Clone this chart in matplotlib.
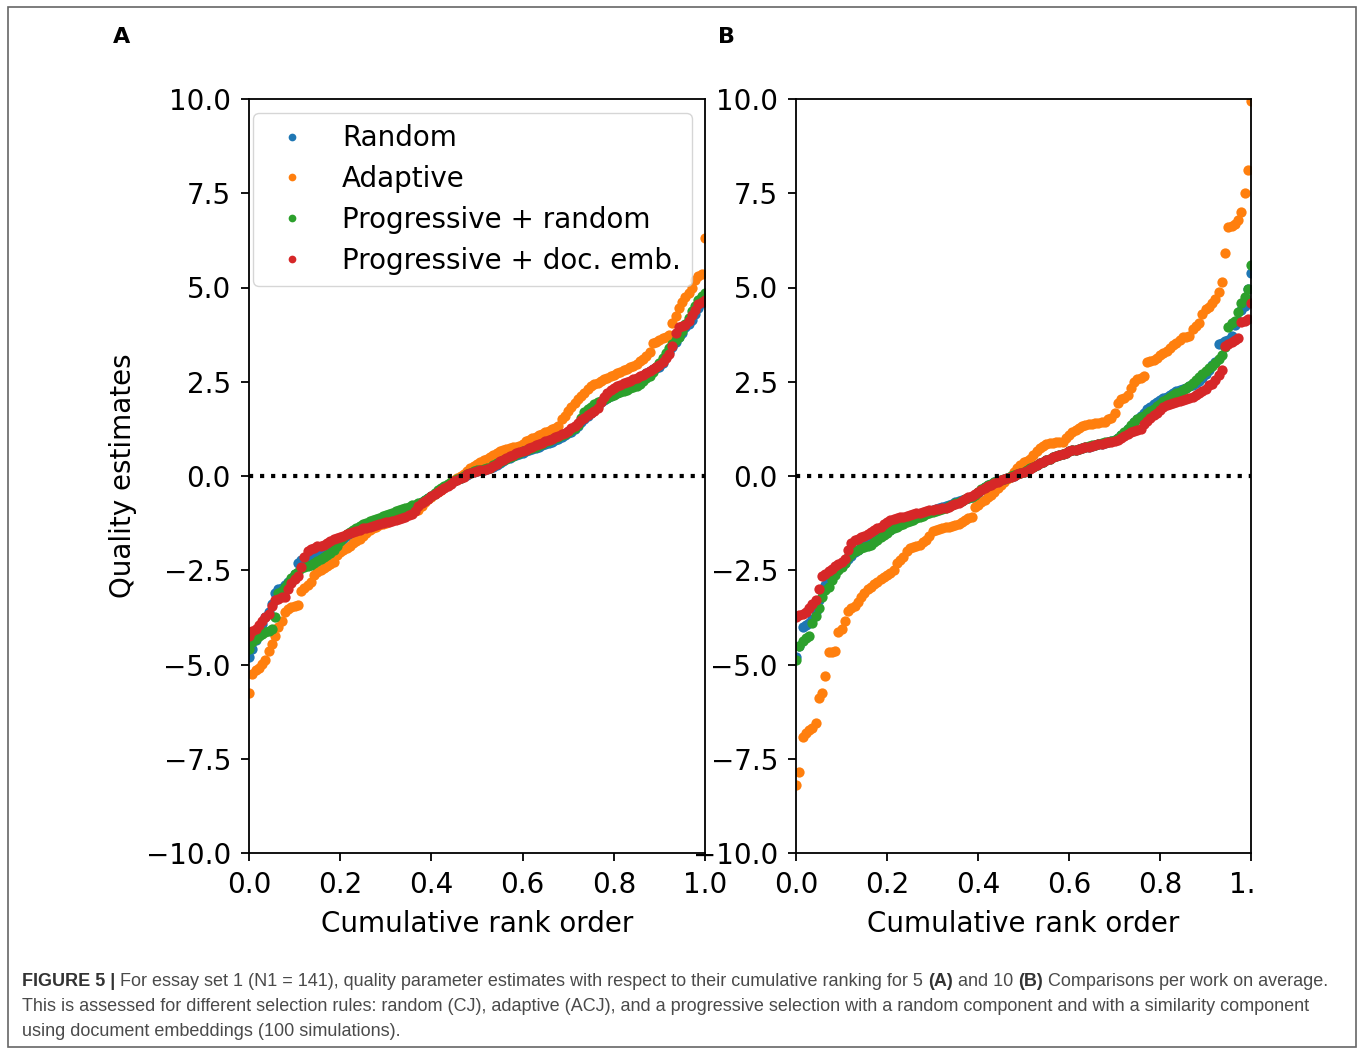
import numpy as np
import matplotlib
matplotlib.use('Agg')
import matplotlib.pyplot as plt
from matplotlib.patches import Rectangle

# quality estimates per work, sorted (141 works)
series_names = ['Random', 'Adaptive', 'Progressive + random', 'Progressive + doc. emb.']
colors = ['#1f77b4', '#ff7f0e', '#2ca02c', '#d62728']

# panel A: 5 comparisons per work
rnd_a = [-4.8, -4.6, -4.35, -4.1, -3.92, -3.75, -3.6, -3.4, -3.1, -3.0,
         -2.97, -2.9, -2.82, -2.76, -2.6, -2.3, -2.22, -2.18, -2.14, -2.1,
         -2.06, -2.02, -1.98, -1.94, -1.91, -1.87, -1.83, -1.78, -1.72, -1.66,
         -1.6, -1.53, -1.47, -1.42, -1.37, -1.32, -1.29, -1.26, -1.23, -1.2,
         -1.17, -1.14, -1.12, -1.09, -1.07, -1.05, -1.03, -1.01, -0.99, -0.97,
         -0.94, -0.88, -0.78, -0.7, -0.64, -0.58, -0.52, -0.47, -0.41, -0.35,
         -0.29, -0.24, -0.19, -0.14, -0.09, -0.05, -0.01, 0.03, 0.07, 0.1,
         0.13, 0.15, 0.17, 0.19, 0.21, 0.25, 0.3, 0.35, 0.4, 0.44,
         0.48, 0.52, 0.55, 0.59, 0.62, 0.65, 0.68, 0.71, 0.75, 0.78,
         0.82, 0.85, 0.88, 0.91, 0.95, 0.99, 1.03, 1.08, 1.13, 1.18,
         1.25, 1.33, 1.42, 1.5, 1.58, 1.66, 1.75, 1.85, 1.95, 2.02,
         2.08, 2.13, 2.17, 2.21, 2.25, 2.29, 2.33, 2.37, 2.42, 2.48,
         2.56, 2.64, 2.72, 2.78, 2.83, 2.87, 2.9, 3.0, 3.15, 3.3,
         3.42, 3.55, 3.68, 3.8, 3.95, 4.02, 4.15, 4.3, 4.45, 4.6,
         4.72]
ada_a = [-5.75, -5.25, -5.15, -5.08, -4.98, -4.88, -4.65, -4.45, -4.25, -4.0,
         -3.85, -3.62, -3.52, -3.48, -3.45, -3.42, -3.05, -2.98, -2.9, -2.8,
         -2.62, -2.55, -2.49, -2.43, -2.39, -2.34, -2.27, -2.1, -2.02, -1.96,
         -1.9, -1.85, -1.79, -1.72, -1.66, -1.6, -1.52, -1.44, -1.39, -1.35,
         -1.31, -1.28, -1.24, -1.2, -1.16, -1.13, -1.1, -1.07, -1.04, -1.01,
         -0.98, -0.94, -0.9, -0.8, -0.68, -0.62, -0.55, -0.48, -0.42, -0.36,
         -0.3, -0.24, -0.17, -0.1, -0.05, 0.0, 0.06, 0.13, 0.2, 0.27,
         0.33, 0.38, 0.42, 0.45, 0.5, 0.56, 0.62, 0.66, 0.69, 0.72,
         0.74, 0.76, 0.78, 0.8, 0.86, 0.92, 0.96, 1.0, 1.04, 1.08,
         1.12, 1.17, 1.2, 1.24, 1.28, 1.32, 1.52, 1.6, 1.72, 1.82,
         1.93, 2.03, 2.12, 2.2, 2.3, 2.38, 2.43, 2.48, 2.53, 2.57,
         2.61, 2.65, 2.69, 2.72, 2.76, 2.8, 2.84, 2.88, 2.93, 2.98,
         3.04, 3.1, 3.18, 3.28, 3.52, 3.56, 3.6, 3.65, 3.7, 3.74,
         4.05, 4.25, 4.45, 4.62, 4.75, 4.85, 5.0, 5.2, 5.3, 5.35,
         6.3]
prg_a = [-4.6, -4.4, -4.32, -4.25, -4.2, -4.15, -4.1, -4.05, -3.75, -3.1,
         -3.05, -2.95, -2.85, -2.7, -2.6, -2.55, -2.45, -2.41, -2.38, -2.35,
         -2.3, -2.25, -2.2, -2.15, -2.1, -2.05, -1.97, -1.85, -1.72, -1.62,
         -1.55, -1.48, -1.42, -1.37, -1.32, -1.28, -1.24, -1.2, -1.17, -1.14,
         -1.11, -1.07, -1.04, -1.0, -0.97, -0.94, -0.91, -0.88, -0.85, -0.82,
         -0.78, -0.76, -0.72, -0.68, -0.63, -0.58, -0.53, -0.46, -0.38, -0.31,
         -0.27, -0.22, -0.17, -0.12, -0.08, -0.04, 0.0, 0.04, 0.08, 0.12,
         0.15, 0.17, 0.19, 0.2, 0.22, 0.28, 0.34, 0.38, 0.42, 0.46,
         0.5, 0.54, 0.58, 0.62, 0.65, 0.68, 0.71, 0.75, 0.78, 0.82,
         0.86, 0.9, 0.93, 0.97, 1.0, 1.04, 1.08, 1.12, 1.17, 1.22,
         1.28, 1.35, 1.55, 1.7, 1.78, 1.84, 1.9, 1.95, 1.99, 2.03,
         2.08, 2.12, 2.16, 2.2, 2.23, 2.26, 2.29, 2.33, 2.36, 2.4,
         2.45, 2.52, 2.6, 2.66, 2.75, 2.88, 3.0, 3.12, 3.25, 3.4,
         3.5, 3.62, 3.7, 3.85, 4.02, 4.18, 4.38, 4.52, 4.68, 4.78,
         4.85]
doc_a = [-4.25, -4.1, -4.05, -3.95, -3.85, -3.75, -3.65, -3.45, -3.3, -3.25,
         -3.22, -3.2, -3.0, -2.85, -2.72, -2.65, -2.42, -2.15, -2.0, -1.93,
         -1.9, -1.87, -1.85, -1.82, -1.78, -1.72, -1.68, -1.65, -1.62, -1.58,
         -1.54, -1.51, -1.48, -1.45, -1.42, -1.39, -1.37, -1.35, -1.33, -1.31,
         -1.28, -1.25, -1.23, -1.21, -1.19, -1.17, -1.14, -1.11, -1.08, -1.04,
         -1.0, -0.93, -0.8, -0.72, -0.66, -0.6, -0.54, -0.49, -0.43, -0.37,
         -0.32, -0.26, -0.2, -0.14, -0.1, -0.06, -0.02, 0.04, 0.08, 0.11,
         0.14, 0.16, 0.17, 0.18, 0.2, 0.26, 0.33, 0.39, 0.43, 0.48,
         0.52, 0.56, 0.6, 0.64, 0.67, 0.7, 0.73, 0.77, 0.81, 0.84,
         0.88, 0.92, 0.95, 0.99, 1.03, 1.07, 1.11, 1.15, 1.2, 1.26,
         1.33, 1.4, 1.48, 1.55, 1.61, 1.67, 1.72, 1.8, 1.95, 2.1,
         2.2, 2.28, 2.34, 2.38, 2.42, 2.46, 2.5, 2.53, 2.56, 2.6,
         2.64, 2.69, 2.73, 2.78, 2.83, 2.88, 2.94, 3.02, 3.12, 3.24,
         3.45, 3.8, 3.95, 3.98, 4.0, 4.1, 4.28, 4.4, 4.55, 4.62,
         4.68]

# panel B: 10 comparisons per work
rnd_b = [-4.8, -4.5, -4.0, -3.95, -3.9, -3.78, -3.6, -3.28, -3.05, -2.9,
         -2.76, -2.66, -2.56, -2.47, -2.38, -2.3, -2.2, -2.12, -2.02, -1.95,
         -1.87, -1.8, -1.74, -1.7, -1.66, -1.62, -1.58, -1.53, -1.48, -1.42,
         -1.36, -1.31, -1.27, -1.22, -1.18, -1.14, -1.1, -1.07, -1.03, -1.0,
         -0.97, -0.94, -0.91, -0.88, -0.85, -0.82, -0.79, -0.76, -0.73, -0.7,
         -0.67, -0.64, -0.61, -0.58, -0.55, -0.5, -0.44, -0.37, -0.3, -0.25,
         -0.21, -0.17, -0.14, -0.11, -0.08, -0.05, -0.02, 0.01, 0.05, 0.08,
         0.11, 0.15, 0.2, 0.25, 0.3, 0.34, 0.38, 0.42, 0.46, 0.5,
         0.53, 0.56, 0.59, 0.62, 0.65, 0.68, 0.7, 0.72, 0.74, 0.76,
         0.78, 0.8, 0.82, 0.84, 0.86, 0.88, 0.9, 0.92, 0.95, 1.0,
         1.08, 1.15, 1.24, 1.33, 1.42, 1.5, 1.58, 1.68, 1.78, 1.84,
         1.9, 1.96, 2.01, 2.06, 2.1, 2.15, 2.2, 2.25, 2.28, 2.31,
         2.34, 2.38, 2.42, 2.46, 2.52, 2.6, 2.7, 2.82, 2.95, 3.03,
         3.5, 3.54, 3.58, 3.62, 3.72, 4.0, 4.12, 4.4, 4.5, 4.95,
         5.38]
ada_b = [-8.2, -7.85, -6.92, -6.82, -6.75, -6.68, -6.55, -5.88, -5.75, -5.3,
         -4.68, -4.66, -4.64, -4.15, -4.05, -3.85, -3.58, -3.5, -3.45, -3.35,
         -3.2, -3.1, -3.0, -2.94, -2.86, -2.8, -2.74, -2.68, -2.62, -2.58,
         -2.5, -2.3, -2.22, -2.14, -2.0, -1.92, -1.88, -1.86, -1.82, -1.75,
         -1.7, -1.6, -1.45, -1.42, -1.4, -1.38, -1.36, -1.34, -1.32, -1.3,
         -1.26, -1.21, -1.17, -1.12, -1.08, -0.82, -0.76, -0.7, -0.64, -0.57,
         -0.51, -0.42, -0.33, -0.24, -0.16, -0.08, -0.02, 0.1, 0.2, 0.3,
         0.36, 0.4, 0.45, 0.55, 0.65, 0.74, 0.8, 0.85, 0.87, 0.88,
         0.89, 0.9, 0.91, 1.0, 1.1, 1.17, 1.22, 1.27, 1.32, 1.35,
         1.37, 1.39, 1.4, 1.41, 1.42, 1.44, 1.5, 1.55, 1.66, 1.93,
         2.03, 2.08, 2.15, 2.33, 2.5, 2.57, 2.6, 2.64, 3.03, 3.06,
         3.08, 3.13, 3.2, 3.26, 3.32, 3.4, 3.47, 3.52, 3.6, 3.68,
         3.7, 3.72, 3.9, 3.98, 4.05, 4.3, 4.42, 4.49, 4.6, 4.7,
         4.89, 5.15, 5.91, 6.61, 6.64, 6.68, 6.79, 7.01, 7.5, 8.12,
         9.95]
prg_b = [-4.88, -4.5, -4.38, -4.3, -4.25, -3.9, -3.72, -3.5, -3.22, -3.02,
         -2.95, -2.75, -2.63, -2.5, -2.41, -2.3, -2.15, -2.08, -2.0, -1.96,
         -1.92, -1.88, -1.85, -1.82, -1.76, -1.7, -1.63, -1.57, -1.5, -1.44,
         -1.38, -1.34, -1.3, -1.26, -1.22, -1.19, -1.16, -1.12, -1.09, -1.05,
         -1.02, -0.99, -0.96, -0.93, -0.9, -0.87, -0.84, -0.8, -0.76, -0.72,
         -0.68, -0.65, -0.62, -0.59, -0.56, -0.5, -0.42, -0.35, -0.28, -0.24,
         -0.2, -0.16, -0.13, -0.1, -0.07, -0.04, -0.01, 0.02, 0.05, 0.08,
         0.11, 0.15, 0.2, 0.25, 0.3, 0.34, 0.38, 0.42, 0.46, 0.5,
         0.53, 0.56, 0.59, 0.62, 0.65, 0.68, 0.7, 0.72, 0.75, 0.77,
         0.79, 0.81, 0.83, 0.85, 0.87, 0.89, 0.91, 0.93, 0.96, 1.02,
         1.1, 1.17, 1.25, 1.35, 1.42, 1.5, 1.56, 1.6, 1.66, 1.72,
         1.78, 1.85, 1.92, 2.0, 2.05, 2.1, 2.15, 2.2, 2.24, 2.29,
         2.34, 2.4, 2.46, 2.55, 2.63, 2.7, 2.78, 2.86, 2.92, 2.99,
         3.1, 3.22, 3.43, 3.96, 4.05, 4.1, 4.36, 4.58, 4.76, 4.95,
         5.6]
doc_b = [-3.75, -3.7, -3.66, -3.6, -3.5, -3.4, -3.3, -3.0, -2.65, -2.6,
         -2.52, -2.47, -2.4, -2.34, -2.28, -2.2, -1.95, -1.78, -1.7, -1.66,
         -1.62, -1.58, -1.53, -1.48, -1.44, -1.39, -1.34, -1.28, -1.22, -1.17,
         -1.14, -1.12, -1.1, -1.08, -1.06, -1.04, -1.02, -0.99, -0.97, -0.95,
         -0.93, -0.91, -0.9, -0.88, -0.87, -0.86, -0.84, -0.81, -0.77, -0.74,
         -0.71, -0.67, -0.62, -0.57, -0.52, -0.47, -0.42, -0.37, -0.32, -0.27,
         -0.23, -0.19, -0.15, -0.11, -0.08, -0.05, -0.02, 0.01, 0.04, 0.07,
         0.1, 0.14, 0.19, 0.25, 0.3, 0.34, 0.38, 0.42, 0.46, 0.5,
         0.53, 0.56, 0.59, 0.62, 0.65, 0.68, 0.7, 0.72, 0.74, 0.76,
         0.78, 0.8, 0.82, 0.84, 0.86, 0.87, 0.89, 0.9, 0.92, 0.95,
         1.0, 1.06, 1.12, 1.16, 1.19, 1.22, 1.25, 1.38, 1.46, 1.54,
         1.62, 1.68, 1.76, 1.84, 1.88, 1.91, 1.94, 1.96, 1.98, 2.01,
         2.04, 2.07, 2.1, 2.14, 2.2, 2.25, 2.32, 2.41, 2.45, 2.55,
         2.68, 2.8, 3.45, 3.5, 3.55, 3.62, 3.66, 4.08, 4.12, 4.16,
         4.6]

yticks = [-10.0, -7.5, -5.0, -2.5, 0.0, 2.5, 5.0, 7.5, 10.0]
xticks = [0.0, 0.2, 0.4, 0.6, 0.8, 1.0]

caption_lines = [
    [('FIGURE 5 |', True),
     (' For essay set 1 (N1 = 141), quality parameter estimates with respect to their cumulative ranking for 5 ', False),
     ('(A)', True), (' and 10 ', False), ('(B)', True),
     (' Comparisons per work on average.', False)],
    [('This is assessed for different selection rules: random (CJ), adaptive (ACJ), and a progressive selection '
      'with a random component and with a similarity component', False)],
    [('using document embeddings (100 simulations).', False)],
]

FS = 20
W, H = 1360, 1050
fig = plt.figure(figsize=(W / 100, H / 100), dpi=100)
ax_a = fig.add_axes([249 / W, 197 / H, 456 / W, 754 / H])
ax_b = fig.add_axes([796 / W, 197 / H, 455 / W, 754 / H])


def draw_panel(ax, data):
    n = len(data[0])
    x = np.linspace(0, 1, n)
    for name, vals, c in zip(series_names, data, colors):
        ax.plot(x, vals, 'o', ls='none', ms=7.4, mew=0, color=c, label=name, zorder=2)
    ax.axhline(0, color='black', ls=':', lw=3, zorder=3)
    ax.set_xlim(0, 1)
    ax.set_ylim(-10, 10)
    ax.set_xticks(xticks)
    ax.set_yticks(yticks)
    ax.tick_params(labelsize=FS, length=6, width=1.3, pad=7)
    for s in ax.spines.values():
        s.set_linewidth(1.3)
    ax.set_xlabel('Cumulative rank order', fontsize=FS, labelpad=8)


draw_panel(ax_a, [rnd_a, ada_a, prg_a, doc_a])
draw_panel(ax_b, [rnd_b, ada_b, prg_b, doc_b])
ax_a.set_ylabel('Quality estimates', fontsize=FS, labelpad=6)

ax_a.legend(loc='upper left', bbox_to_anchor=(0.009, 0.981), borderaxespad=0,
            fontsize=FS, markerscale=0.75, labelspacing=0.46, framealpha=0.8,
            edgecolor='#cccccc')

# panel letters
fig.text(122 / W, 1 - 37 / H, 'A', ha='center', va='center', fontsize=16,
         fontweight='bold', family='DejaVu Sans')
fig.text(726 / W, 1 - 37 / H, 'B', ha='center', va='center', fontsize=16,
         fontweight='bold', family='DejaVu Sans')

# the source image is cut just right of panel B
fig.add_artist(Rectangle((1257 / W, 105 / H), 95 / W, 800 / H, transform=fig.transFigure,
                         facecolor='white', edgecolor='none', zorder=10))
# frame round the whole figure
fig.add_artist(Rectangle((8 / W, 3 / H), 1348 / W, 1040 / H, transform=fig.transFigure,
                         facecolor='none', edgecolor='#666666', lw=1.2, zorder=11))

# caption with bold pieces; size chosen so the first line spans the frame like the original
renderer = fig.canvas.get_renderer()
cap_font = 'Liberation Sans'
cap_width = 1313
probe = sum(fig.text(0, 0, txt, fontsize=10, family=cap_font,
                     fontweight='bold' if b else 'normal').get_window_extent(renderer).width
            for txt, b in caption_lines[0])
for t in list(fig.texts)[-len(caption_lines[0]):]:
    t.remove()
cap_size = 10 * cap_width / probe

baselines = [986, 1011, 1036]
for parts, base in zip(caption_lines, baselines):
    xpos = 22 / W
    for txt, bold in parts:
        t = fig.text(xpos, 1 - base / H, txt, ha='left', va='baseline', fontsize=cap_size,
                     family=cap_font, fontweight='bold' if bold else 'normal',
                     color='#333333' if bold else '#4a4a4a', zorder=12)
        xpos += t.get_window_extent(renderer).width / W

fig.savefig('out.png', dpi=100)
